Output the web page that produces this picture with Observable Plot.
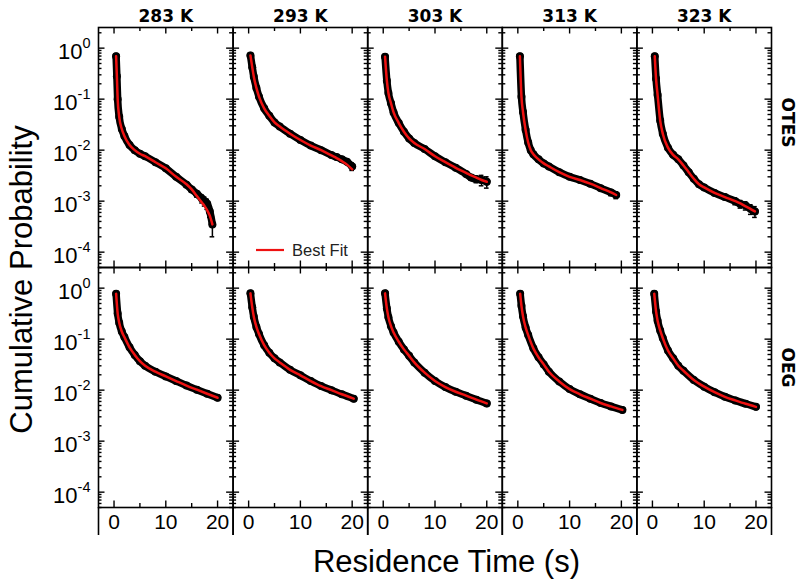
<!DOCTYPE html>
<html><head><meta charset="utf-8">
<script src="https://cdn.jsdelivr.net/npm/d3@7"></script>
<script src="https://cdn.jsdelivr.net/npm/@observablehq/plot@0.6"></script>
<style>body{margin:0;background:#fff}</style>
</head><body><div id="chart"></div>
<script>
// Facets
const temps = ["283 K", "293 K", "303 K", "313 K", "323 K"];
const surfaces = ["OTES", "OEG"];

// ---- OTES (top row): residence time t (s), cumulative probability p, error, best fit ----
const t_OTES_283 = [0.4, 0.55, 0.7, 1.0, 1.5, 2, 3, 4, 5, 6, 8, 10, 12, 14, 15, 16, 17, 17.5, 18, 18.5, 19];
const p_OTES_283 = [0.69, 0.28, 0.10, 0.045, 0.026, 0.019, 0.0126, 0.010, 0.0085, 0.0076, 0.0058, 0.0044, 0.0030, 0.0021, 0.0017, 0.0014, 0.00112, 0.0010, 0.00089, 0.00063, 0.00035];
const e_OTES_283 = [0, 0, 0, 0, 0, 0, 0, 0, 0, 0, 0, 0, 0, 0.0002, 0.0002, 0.0002, 0.0002, 0.0002, 0.0002, 0.00015, 0.00015];
const f_OTES_283 = [0.69, 0.28, 0.10, 0.045, 0.026, 0.019, 0.0126, 0.010, 0.0085, 0.0076, 0.0058, 0.0044, 0.0030, 0.00214, 0.0017, 0.00126, 0.00093, 0.0008, 0.00066, 0.00052, 0.00035];

const t_OTES_293 = [0.35, 0.7, 1, 1.5, 2, 3, 4, 5, 6, 8, 10, 12, 14, 16, 17, 18, 19, 20];
const p_OTES_293 = [0.72, 0.42, 0.275, 0.166, 0.112, 0.066, 0.047, 0.035, 0.029, 0.021, 0.0158, 0.0123, 0.010, 0.0080, 0.0073, 0.0066, 0.0059, 0.0048];
const e_OTES_293 = [0, 0, 0, 0, 0, 0, 0, 0, 0, 0, 0, 0, 0, 0.0004, 0.0005, 0.0005, 0.0006, 0.0008];
const f_OTES_293 = [0.72, 0.42, 0.275, 0.166, 0.112, 0.066, 0.047, 0.035, 0.029, 0.021, 0.0158, 0.0123, 0.010, 0.0079, 0.0070, 0.0061, 0.0052, 0.0042];

const t_OTES_303 = [0.35, 0.7, 1, 1.5, 2, 3, 4, 5, 6, 8, 10, 12, 14, 16, 17, 18, 19, 20];
const p_OTES_303 = [0.68, 0.23, 0.132, 0.083, 0.055, 0.034, 0.023, 0.017, 0.0138, 0.0105, 0.0076, 0.0058, 0.0045, 0.0034, 0.0029, 0.0027, 0.0026, 0.0024];
const e_OTES_303 = [0, 0, 0, 0, 0, 0, 0, 0, 0, 0, 0, 0, 0, 0.0003, 0.0003, 0.0004, 0.0006, 0.0006];
const f_OTES_303 = [0.68, 0.23, 0.132, 0.083, 0.055, 0.034, 0.023, 0.017, 0.0138, 0.0105, 0.0076, 0.0058, 0.0045, 0.0036, 0.0032, 0.0029, 0.0026, 0.0024];

const t_OTES_313 = [0.4, 0.7, 1, 1.5, 2, 2.5, 3, 4, 5, 6, 8, 10, 12, 14, 16, 18, 19];
const p_OTES_313 = [0.69, 0.112, 0.056, 0.025, 0.0141, 0.010, 0.0083, 0.0066, 0.0055, 0.0048, 0.0037, 0.0030, 0.0026, 0.0022, 0.0018, 0.00148, 0.00132];
const e_OTES_313 = [0, 0, 0, 0, 0, 0, 0, 0, 0, 0, 0, 0, 0, 0, 0.00015, 0.0002, 0.0002];
const f_OTES_313 = [0.69, 0.112, 0.056, 0.025, 0.0141, 0.010, 0.0083, 0.0066, 0.0055, 0.0048, 0.0037, 0.0030, 0.0026, 0.0022, 0.0018, 0.00148, 0.00132];

const t_OTES_323 = [0.45, 0.7, 1, 1.5, 2, 3, 4, 5, 6, 7, 8, 9, 10, 12, 14, 16, 17, 18, 19, 19.8];
const p_OTES_323 = [0.69, 0.25, 0.12, 0.038, 0.021, 0.0112, 0.0081, 0.0066, 0.0050, 0.0037, 0.00275, 0.00214, 0.00186, 0.00145, 0.0012, 0.0010, 0.00088, 0.00082, 0.00070, 0.00063];
const e_OTES_323 = [0, 0, 0, 0, 0, 0, 0, 0, 0, 0, 0, 0, 0, 0, 0, 0.00015, 0.00015, 0.00015, 0.00015, 0.00015];
const f_OTES_323 = [0.69, 0.25, 0.12, 0.038, 0.021, 0.0112, 0.0081, 0.0066, 0.0050, 0.0037, 0.00275, 0.00214, 0.00186, 0.00145, 0.0012, 0.0010, 0.00090, 0.00079, 0.00070, 0.00063];

// ---- OEG (bottom row): data and fit coincide ----
const t_OEG_283 = [0.4, 0.7, 1, 1.5, 2, 3, 4, 5, 6, 8, 10, 12, 14, 16, 18, 20];
const p_OEG_283 = [0.78, 0.32, 0.21, 0.141, 0.110, 0.069, 0.049, 0.037, 0.030, 0.023, 0.0186, 0.0151, 0.0123, 0.0102, 0.0085, 0.0071];
const t_OEG_293 = [0.35, 0.7, 1, 1.5, 2, 3, 4, 5, 6, 8, 10, 12, 14, 16, 18, 20.3];
const p_OEG_293 = [0.79, 0.42, 0.275, 0.174, 0.126, 0.076, 0.054, 0.042, 0.035, 0.025, 0.0195, 0.0151, 0.012, 0.010, 0.0083, 0.0068];
const t_OEG_303 = [0.35, 0.7, 1, 1.5, 2, 3, 4, 5, 6, 8, 10, 12, 14, 16, 18, 20];
const p_OEG_303 = [0.79, 0.40, 0.27, 0.18, 0.135, 0.089, 0.063, 0.047, 0.035, 0.022, 0.0151, 0.0115, 0.0093, 0.0078, 0.0065, 0.0055];
const t_OEG_313 = [0.45, 0.7, 1, 1.5, 2, 3, 4, 5, 6, 8, 10, 12, 14, 16, 18, 20.2];
const p_OEG_313 = [0.78, 0.45, 0.28, 0.17, 0.12, 0.066, 0.044, 0.032, 0.023, 0.0148, 0.0105, 0.0083, 0.0068, 0.0056, 0.0048, 0.0041];
const t_OEG_323 = [0.35, 0.7, 1, 1.5, 2, 3, 4, 5, 6, 8, 10, 12, 14, 16, 18, 20];
const p_OEG_323 = [0.78, 0.35, 0.23, 0.148, 0.105, 0.060, 0.042, 0.030, 0.024, 0.0158, 0.0117, 0.0091, 0.0074, 0.0063, 0.0054, 0.0047];

// Axis tick labels
const xTickValues = [0, 10, 20];
const xMinorValues = [5, 15];
const yDecades = [1, 0.1, 0.01, 0.001, 0.0001];

// ---- build table ----
const panels = [
  ["283 K", "OTES", t_OTES_283, p_OTES_283, e_OTES_283, f_OTES_283],
  ["293 K", "OTES", t_OTES_293, p_OTES_293, e_OTES_293, f_OTES_293],
  ["303 K", "OTES", t_OTES_303, p_OTES_303, e_OTES_303, f_OTES_303],
  ["313 K", "OTES", t_OTES_313, p_OTES_313, e_OTES_313, f_OTES_313],
  ["323 K", "OTES", t_OTES_323, p_OTES_323, e_OTES_323, f_OTES_323],
  ["283 K", "OEG", t_OEG_283, p_OEG_283, null, p_OEG_283],
  ["293 K", "OEG", t_OEG_293, p_OEG_293, null, p_OEG_293],
  ["303 K", "OEG", t_OEG_303, p_OEG_303, null, p_OEG_303],
  ["313 K", "OEG", t_OEG_313, p_OEG_313, null, p_OEG_313],
  ["323 K", "OEG", t_OEG_323, p_OEG_323, null, p_OEG_323]
];
const rows = [];
for (const [fx, fy, ts, ps, es, fs] of panels) {
  ts.forEach((t, i) => rows.push({fx, fy, t, p: ps[i], err: es ? es[i] : 0, fit: fs[i]}));
}
const errRows = rows.filter(d => d.err > 0);
const rowLabels = surfaces.map(s => ({fx: "323 K", fy: s}));

const W = 800, H = 583, ML = 98, MR = 29, MT = 27, MB = 76;
const FW = (W - ML - MR) / 5, FH = (H - MT - MB) / 2;
const yDomain = [5e-5, 2.54];
const yAll = d3.scaleLog().domain(yDomain).ticks();
const yMinor = yAll.filter(v => !yDecades.some(m => Math.abs(m - v) / m < 1e-9));
const RED = "#ee1111";
const tk = {stroke: "black", strokeWidth: 1.4};
const sans = "'Liberation Sans', Arial, sans-serif";
const boldFont = "'DejaVu Sans', 'Liberation Sans', sans-serif";

const chart = Plot.plot({
  width: W, height: H,
  marginLeft: ML, marginRight: MR, marginTop: MT, marginBottom: MB,
  style: {fontFamily: sans, background: "white", color: "black", overflow: "visible"},
  x: {domain: [-3, 23]},
  y: {type: "log", domain: yDomain},
  fx: {domain: temps, padding: 0, round: false},
  fy: {domain: surfaces, padding: 0, round: false, axis: null},
  marks: [
    Plot.tickY(yDecades, {y: d => d, insetRight: FW - 6.5, ...tk}),
    Plot.tickY(yDecades, {y: d => d, insetLeft: FW - 6.5, ...tk}),
    Plot.tickY(yMinor, {y: d => d, insetRight: FW - 3.5, ...tk}),
    Plot.tickY(yMinor, {y: d => d, insetLeft: FW - 3.5, ...tk}),
    Plot.tickX(xTickValues, {x: d => d, insetTop: FH - 6.5, ...tk}),
    Plot.tickX(xTickValues, {x: d => d, insetBottom: FH - 6.5, ...tk}),
    Plot.tickX(xMinorValues, {x: d => d, insetTop: FH - 4, ...tk}),
    Plot.tickX(xMinorValues, {x: d => d, insetBottom: FH - 4, ...tk}),
    Plot.axisY({anchor: "left", ticks: yDecades, tickSize: 0, tickPadding: 8, fontSize: 22, dy: 3.6,
      tickFormat: d => "10^" + Math.round(Math.log10(d)), label: null}),
    Plot.axisX({anchor: "bottom", ticks: xTickValues, tickSize: 0, tickPadding: 7, fontSize: 21, label: null}),
    Plot.axisX({anchor: "bottom", ticks: [-3, 23], tickSize: 28, tickFormat: () => "", label: null, strokeWidth: 1.6}),
    Plot.axisFx({anchor: "top", tickSize: 0, tickPadding: 6, fontSize: 17, fontWeight: "bold", fontFamily: boldFont, label: null}),
    Plot.text(rowLabels, {fx: "fx", fy: "fy", text: "fy", frameAnchor: "right", rotate: 90, dx: 15.5,
      fontSize: 17, fontWeight: "bold", fontFamily: boldFont}),
    Plot.line(rows, {fx: "fx", fy: "fy", x: "t", y: "p", stroke: "black", strokeWidth: 7.5, curve: "monotone-x"}),
    Plot.dot(rows, {fx: "fx", fy: "fy", x: "t", y: "p", r: 4, fill: "black"}),
    Plot.ruleX(errRows, {fx: "fx", fy: "fy", x: "t", y1: d => d.p - d.err, y2: d => d.p + d.err, stroke: "black", strokeWidth: 1.5}),
    Plot.ruleY(errRows, {fx: "fx", fy: "fy", y: d => d.p + d.err, x1: d => d.t - 0.45, x2: d => d.t + 0.45, stroke: "black", strokeWidth: 1.5}),
    Plot.ruleY(errRows, {fx: "fx", fy: "fy", y: d => d.p - d.err, x1: d => d.t - 0.45, x2: d => d.t + 0.45, stroke: "black", strokeWidth: 1.5}),
    Plot.line(rows, {fx: "fx", fy: "fy", x: "t", y: "fit", stroke: RED, strokeWidth: 2.5, curve: "monotone-x"}),
    Plot.frame({stroke: "black", strokeWidth: 1.6})
  ]
});

const svg = d3.select(chart);
// superscript exponents on the y tick labels
svg.selectAll('g[aria-label="y-axis tick label"] text').each(function () {
  const s = this.textContent;
  if (!s.includes("^")) return;
  const [b, e] = s.split("^");
  this.textContent = b;
  d3.select(this).append("tspan").attr("dy", -11).attr("font-size", 14.5).text(e);
});
// axis titles
svg.append("text").attr("transform", "translate(31.5,279.5) rotate(-90)")
  .attr("text-anchor", "middle").attr("font-family", sans).attr("font-size", 31).attr("fill", "black")
  .text("Cumulative Probability");
svg.append("text").attr("x", 446.5).attr("y", 572)
  .attr("text-anchor", "middle").attr("font-family", sans).attr("font-size", 31).attr("fill", "black")
  .text("Residence Time (s)");
// legend
svg.append("line").attr("x1", 256).attr("x2", 284).attr("y1", 250).attr("y2", 250)
  .attr("stroke", RED).attr("stroke-width", 2.2);
svg.append("text").attr("x", 292).attr("y", 255.5).attr("text-anchor", "start")
  .attr("font-family", sans).attr("font-size", 16.5).attr("fill", "#222").text("Best Fit");

document.getElementById("chart").append(chart);
</script>
</body></html>
